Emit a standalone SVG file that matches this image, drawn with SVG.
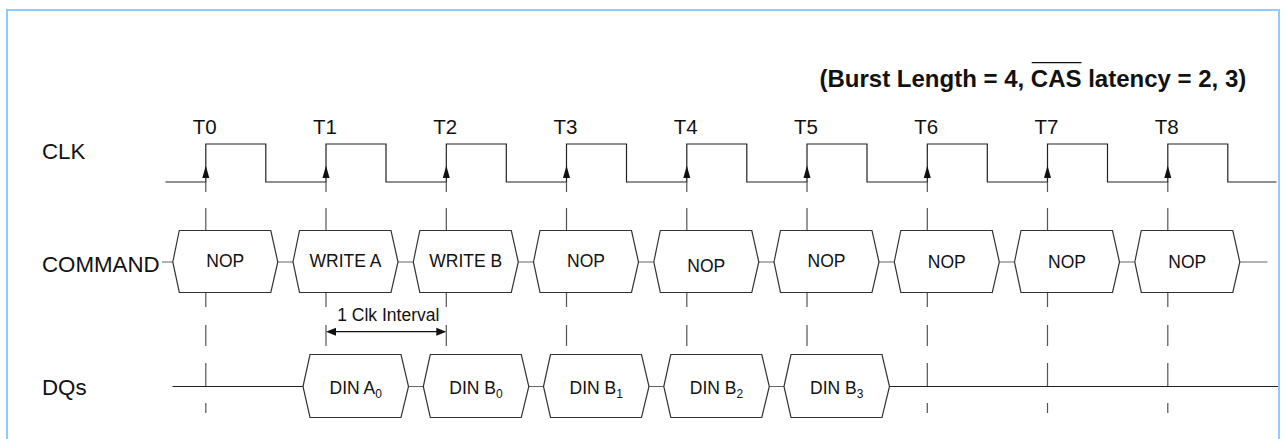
<svg xmlns="http://www.w3.org/2000/svg" width="1286" height="439" viewBox="0 0 1286 439">
<style>
.lbl{font-family:"Liberation Sans",Arial,sans-serif;font-size:22.3px;fill:#111}
.tl{font-family:"Liberation Sans",Arial,sans-serif;font-size:20.5px;fill:#111;text-anchor:middle}
.bt{font-family:"Liberation Sans",Arial,sans-serif;font-size:17.5px;fill:#111;text-anchor:middle}
.sub{font-size:12px}
.title{font-family:"Liberation Sans",Arial,sans-serif;font-size:24px;font-weight:bold;fill:#111}
.box{fill:#fff;stroke:#333;stroke-width:1.2}
.wave{fill:none;stroke:#222;stroke-width:1.2}
.dash{fill:none;stroke:#555;stroke-width:1.2}
.conn{fill:none;stroke:#666;stroke-width:1.2}
.sig{fill:none;stroke:#222;stroke-width:1.2}
.ah{fill:#111}
</style>
<defs>
<marker id="arr" viewBox="0 0 10 8" refX="10" refY="4" markerWidth="10" markerHeight="8" markerUnits="userSpaceOnUse" orient="auto-start-reverse">
<path d="M0,0 L10,4 L0,8 Z" fill="#111"/>
</marker>
</defs>
<rect x="7" y="10" width="1272" height="440" fill="none" stroke="#8ecbff" stroke-width="2"/>
<text class="title" x="819.5" y="86.5">(Burst Length = 4, CAS latency = 2, 3)</text>
<line x1="1031.7" y1="62.7" x2="1081.5" y2="62.7" stroke="#111" stroke-width="1.3"/>
<g id="labels">
<text class="lbl" x="42" y="159.3">CLK</text>
<text class="lbl" x="42" y="271.7">COMMAND</text>
<text class="lbl" x="42" y="395">DQs</text>
<text class="tl" x="204.8" y="134">T0</text>
<text class="tl" x="325" y="134">T1</text>
<text class="tl" x="445.3" y="134">T2</text>
<text class="tl" x="565.5" y="134">T3</text>
<text class="tl" x="685.8" y="134">T4</text>
<text class="tl" x="806" y="134">T5</text>
<text class="tl" x="926.3" y="134">T6</text>
<text class="tl" x="1046.5" y="134">T7</text>
<text class="tl" x="1166.8" y="134">T8</text>
</g>
<g id="clk">
<path class="wave" d="M165.5,182 H205.8 V144 H265.8 V182 H326 V144 H386 V182 H446.3 V144 H506.3 V182 H566.5 V144 H626.5 V182 H686.8 V144 H746.8 V182 H807 V144 H867 V182 H927.3 V144 H987.3 V182 H1047.5 V144 H1107.5 V182 H1167.8 V144 H1227.8 V182 H1276.5"/>
<g class="ah">
<polygon points="205.8,165.5 202.3,178 209.3,178"/>
<polygon points="326,165.5 322.5,178 329.5,178"/>
<polygon points="446.3,165.5 442.8,178 449.8,178"/>
<polygon points="566.5,165.5 563,178 570,178"/>
<polygon points="686.8,165.5 683.3,178 690.3,178"/>
<polygon points="807,165.5 803.5,178 810.5,178"/>
<polygon points="927.3,165.5 923.8,178 930.8,178"/>
<polygon points="1047.5,165.5 1044,178 1051,178"/>
<polygon points="1167.8,165.5 1164.3,178 1171.3,178"/>
</g>
</g>
<g id="connectors">
<path class="dash" d="M205.8,182V192M205.8,208V230.5M205.8,292.5V307M205.8,325V346M205.8,363V386.5M205.8,403V413
M326,182V192M326,208V230.5M326,292.5V307M326,325V346
M446.3,182V192M446.3,208V230.5M446.3,292.5V307M446.3,325V346
M566.5,182V192M566.5,208V230.5M566.5,292.5V307M566.5,325V346
M686.8,182V192M686.8,208V230.5M686.8,292.5V307M686.8,325V346
M807,182V192M807,208V230.5M807,292.5V307M807,325V346
M927.3,182V192M927.3,208V230.5M927.3,292.5V307M927.3,325V346M927.3,363V386.5M927.3,403V413
M1047.5,182V192M1047.5,208V230.5M1047.5,292.5V307M1047.5,325V346M1047.5,363V386.5M1047.5,403V413
M1167.8,182V192M1167.8,208V230.5M1167.8,292.5V307M1167.8,325V346M1167.8,363V386.5M1167.8,403V413"/>
<path class="conn" d="M162,262H172.8M277.8,262H293M398,262H413.3M518.3,262H533.5M638.5,262H653.8M758.8,262H774M879,262H894.3M999.3,262H1014.5M1119.5,262H1134.8M1239.8,262H1267.5"/>
<path class="conn" d="M408.5,386.5H423.3M528.8,386.5H543.5M649,386.5H663.8M769.3,386.5H784"/>
<path class="sig" d="M172.5,386.5H303M889.5,386.5H1278"/>
<line x1="335" y1="331.7" x2="437" y2="331.7" stroke="#111" stroke-width="1.3"/>
<polygon class="ah" points="326,331.7 336,327.7 336,335.7"/>
<polygon class="ah" points="446.3,331.7 436.3,327.7 436.3,335.7"/>
<text class="bt" x="388.3" y="321">1 Clk Interval</text>
</g>
<g id="cmd0"><polygon class="box" points="172.8,262 179.3,230.5 270.8,230.5 277.8,262 270.8,292.5 179.3,292.5"/><text class="bt" x="225.3" y="266.5">NOP</text></g>
<g id="cmd1"><polygon class="box" points="293,262 299.5,230.5 391,230.5 398,262 391,292.5 299.5,292.5"/><text class="bt" x="345.5" y="267">WRITE A</text></g>
<g id="cmd2"><polygon class="box" points="413.3,262 419.8,230.5 511.3,230.5 518.3,262 511.3,292.5 419.8,292.5"/><text class="bt" x="465.8" y="267">WRITE B</text></g>
<g id="cmd3"><polygon class="box" points="533.5,262 540,230.5 631.5,230.5 638.5,262 631.5,292.5 540,292.5"/><text class="bt" x="586" y="266.5">NOP</text></g>
<g id="cmd4"><polygon class="box" points="653.8,262 660.3,230.5 751.8,230.5 758.8,262 751.8,292.5 660.3,292.5"/><text class="bt" x="706.3" y="272">NOP</text></g>
<g id="cmd5"><polygon class="box" points="774,262 780.5,230.5 872,230.5 879,262 872,292.5 780.5,292.5"/><text class="bt" x="826.5" y="267">NOP</text></g>
<g id="cmd6"><polygon class="box" points="894.3,262 900.8,230.5 992.3,230.5 999.3,262 992.3,292.5 900.8,292.5"/><text class="bt" x="946.8" y="267.5">NOP</text></g>
<g id="cmd7"><polygon class="box" points="1014.5,262 1021,230.5 1112.5,230.5 1119.5,262 1112.5,292.5 1021,292.5"/><text class="bt" x="1067" y="267.5">NOP</text></g>
<g id="cmd8"><polygon class="box" points="1134.8,262 1141.3,230.5 1232.8,230.5 1239.8,262 1232.8,292.5 1141.3,292.5"/><text class="bt" x="1187.3" y="267.5">NOP</text></g>
<g id="dq1"><polygon class="box" points="303,386.5 310,354.5 401,354.5 408.5,386.5 401,417.5 310,417.5"/><text class="bt" x="355.75" y="393.5">DIN A<tspan class="sub" dy="4">0</tspan></text></g>
<g id="dq2"><polygon class="box" points="423.3,386.5 430.3,354.5 521.3,354.5 528.8,386.5 521.3,417.5 430.3,417.5"/><text class="bt" x="476" y="394">DIN B<tspan class="sub" dy="4">0</tspan></text></g>
<g id="dq3"><polygon class="box" points="543.5,386.5 550.5,354.5 641.5,354.5 649,386.5 641.5,417.5 550.5,417.5"/><text class="bt" x="596.25" y="394">DIN B<tspan class="sub" dy="4">1</tspan></text></g>
<g id="dq4"><polygon class="box" points="663.8,386.5 670.8,354.5 761.8,354.5 769.3,386.5 761.8,417.5 670.8,417.5"/><text class="bt" x="716.5" y="394">DIN B<tspan class="sub" dy="4">2</tspan></text></g>
<g id="dq5"><polygon class="box" points="784,386.5 791,354.5 882,354.5 889.5,386.5 882,417.5 791,417.5"/><text class="bt" x="836.75" y="394">DIN B<tspan class="sub" dy="4">3</tspan></text></g>
</svg>
